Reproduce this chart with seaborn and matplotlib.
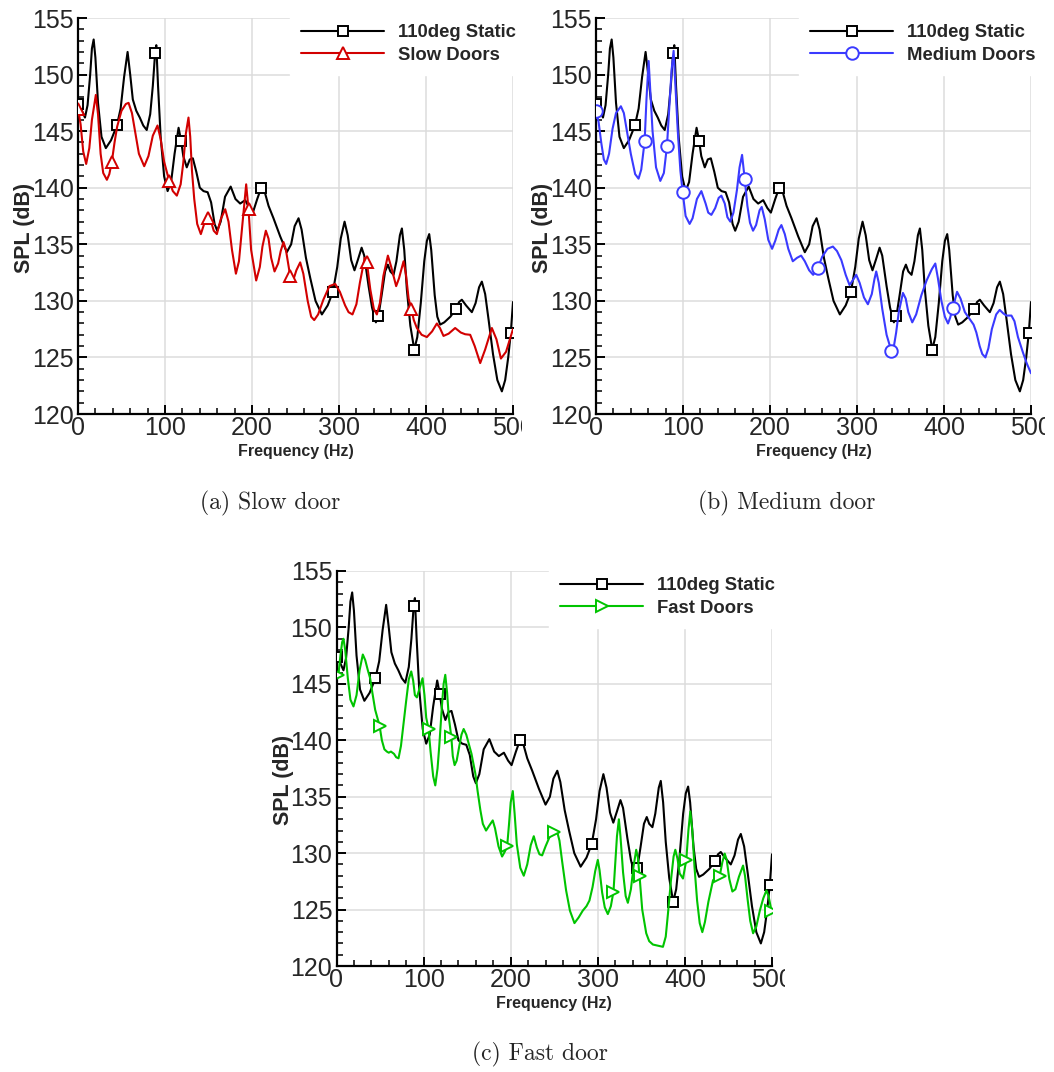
import numpy as np
import matplotlib
matplotlib.use("Agg")
import matplotlib.pyplot as plt
from matplotlib.patches import Rectangle
from matplotlib.ticker import MultipleLocator
import seaborn as sns

# ---- spectra: frequency (Hz) and SPL (dB) ----
static_freq = [0, 4, 8, 11, 14, 16, 18, 20, 23, 27, 32, 38, 44.7, 49, 53, 57, 60, 63, 67, 71, 75,
               79, 83, 86, 88.6, 90, 92, 95, 99, 103, 107, 111, 115.6, 118.6, 121, 125, 128.5, 132,
               136, 140, 144.3, 149, 153, 157, 160, 164, 169, 175.5, 181, 186.4, 192.2, 197, 201,
               206, 210.6, 214, 219, 224.7, 232.4, 240, 245, 249, 253.5, 257, 262, 267, 273, 280.3,
               287, 293, 298, 302, 306.4, 310, 314, 317.8, 322, 326, 329, 334, 338, 342.4, 345.4,
               349, 353, 356.2, 359, 362.7, 366, 370, 372.3, 375, 378, 382, 386.5, 390, 394, 398,
               401, 403.7, 406, 410, 413, 416.3, 421, 428, 434.7, 438, 441.2, 446, 452.7, 457, 461,
               464.2, 468, 472, 477, 482, 487.2, 491, 494.5, 497.5, 500]
static_spl = [147.4, 146.9, 146.2, 147.3, 150.0, 152.3, 153.1, 151.5, 147.5, 144.5, 143.5, 144.2,
              145.5, 147.0, 149.8, 152.0, 150.0, 147.8, 146.8, 146.2, 145.5, 145.1, 146.5, 149.0,
              151.9, 152.6, 149.0, 144.5, 141.0, 139.7, 140.5, 143.0, 145.3, 144.1, 142.8, 141.8,
              142.5, 142.6, 141.4, 140.0, 139.7, 139.6, 138.7, 136.8, 136.2, 137.0, 139.2, 140.1,
              139.0, 138.6, 138.9, 138.2, 137.8, 139.0, 140.0, 139.8, 138.4, 137.3, 135.7, 134.3,
              135.0, 136.6, 137.3, 136.3, 133.8, 132.0, 130.0, 128.8, 129.6, 130.8, 133.0, 135.5,
              137.0, 135.8, 133.6, 132.7, 133.7, 134.7, 134.0, 131.3, 129.4, 128.1, 128.7, 130.5,
              132.6, 133.2, 132.6, 132.3, 133.5, 135.8, 136.4, 134.5, 131.0, 127.8, 125.7, 126.8,
              129.8, 133.5, 135.3, 135.9, 134.5, 130.5, 128.6, 127.9, 128.1, 128.6, 129.3, 129.9,
              130.1, 129.6, 129.0, 129.8, 131.2, 131.7, 130.6, 128.3, 125.3, 123.0, 122.0, 123.0,
              125.0, 127.2, 129.9]
static_marks = [0, 44.7, 88.6, 118.6, 210.6, 293, 345.4, 386.5, 434.7, 497.5]

slow_freq = [0, 3, 6, 9.4, 13, 16, 20.5, 23, 26, 29, 33.2, 36, 38.9, 42, 45, 50, 55, 58.1, 62, 66,
             70, 76.1, 81, 86, 91.4, 95, 99, 104.8, 109, 113.6, 118, 121, 124, 127, 129, 131, 133.6,
             137, 141.2, 145, 148.9, 153, 156, 159.6, 164, 169.2, 173, 177, 181.5, 185, 189, 193.3,
             196, 199, 204.8, 209, 212, 215.9, 219, 222, 225.9, 230, 233, 236.2, 239, 243.9, 247.7,
             251, 255.4, 259, 264, 268, 271.5, 276, 282, 289, 295.6, 301, 307, 311, 315.5, 320,
             324, 329.5, 332, 336, 340, 343.5, 347, 351, 356.2, 360, 365.7, 369, 374.2, 377, 380,
             383, 386, 389.5, 395, 401, 407, 412.5, 416, 420.1, 426, 433.5, 440, 445, 450.8, 456,
             462.3, 468, 475.7, 481, 486.1, 492, 500]
slow_spl = [147.0, 145.6, 143.2, 142.1, 143.5, 146.0, 148.2, 146.5, 143.0, 141.3, 140.7, 141.2,
            142.3, 144.0, 145.4, 146.8, 147.4, 147.5, 146.6, 144.8, 143.0, 141.9, 142.8, 144.6,
            145.5, 144.3, 142.3, 140.6, 139.7, 139.3, 140.3, 142.2, 144.8, 146.2, 144.5, 141.5,
            139.0, 136.8, 135.9, 136.8, 137.3, 137.0, 136.2, 135.9, 137.2, 138.1, 137.0, 134.5,
            132.4, 133.5, 136.8, 140.3, 138.1, 134.5, 131.8, 133.0, 134.8, 136.2, 135.5, 133.8,
            132.6, 133.3, 134.4, 135.2, 134.5, 132.2, 131.9, 132.7, 133.4, 132.4, 130.0, 128.6,
            128.3, 128.8, 130.1, 131.3, 131.5, 130.8, 129.6, 129.0, 128.8, 129.7, 131.6, 133.8,
            133.4, 131.0, 129.3, 128.8, 129.8, 132.2, 134.0, 133.0, 131.3, 132.0, 133.5, 132.3,
            130.2, 129.3, 128.3, 127.6, 127.0, 126.8, 127.3, 128.0, 127.6, 126.9, 127.1, 127.6,
            127.2, 127.05, 127.0, 126.0, 124.5, 125.7, 127.6, 126.6, 124.9, 125.5, 127.5]
slow_marks = [0, 38.9, 104.8, 148.9, 196, 243.9, 332, 383]

medium_freq = [0, 3, 6, 9, 11.7, 15, 19, 23, 28.6, 32, 36, 40, 45, 48.9, 52, 55.9, 58, 60.5, 62.5,
               65, 69, 73.9, 78, 81.6, 84, 87, 89.2, 91, 94, 97, 99.6, 103, 107.6, 111, 116, 121.1,
               126, 129, 132.6, 137, 141, 144.1, 148, 151, 154.4, 158, 162, 165, 167.9, 170.9, 174,
               177, 180.5, 184, 188, 190.5, 194, 198, 202.4, 206, 210, 213.1, 217, 221, 226.2, 231,
               235.8, 240, 245, 249.6, 255, 260, 266, 272.3, 277, 282, 287, 291.4, 295, 299.1, 303,
               308, 312.5, 317, 320, 322.1, 325, 329, 334, 339.4, 342, 345, 348, 352.8, 356, 359,
               363.5, 368, 374, 380, 386, 390, 393, 397, 401, 404.6, 407, 410.3, 415, 419, 424,
               429.5, 434, 437.2, 441, 444, 447.6, 451, 455, 460, 464, 468, 471.7, 477.5, 481, 485,
               490.9, 495, 500]
medium_spl = [146.8, 145.8, 144.0, 142.5, 142.1, 143.0, 145.2, 146.6, 147.2, 146.6, 144.8, 143.0,
              141.2, 140.8, 141.6, 144.1, 147.8, 151.2, 148.5, 145.0, 141.8, 140.6, 141.3, 143.7,
              146.8, 150.5, 152.1, 149.5, 145.0, 141.5, 139.6, 137.5, 136.8, 137.3, 139.0, 139.7,
              138.6, 137.8, 137.6, 138.2, 139.1, 139.3, 138.6, 137.4, 137.0, 137.8, 139.8, 141.8,
              142.9, 140.8, 138.4, 136.9, 136.2, 136.7, 138.0, 138.3, 137.2, 135.4, 134.6, 135.3,
              136.3, 136.7, 135.9, 134.6, 133.5, 133.8, 134.0, 133.5, 132.7, 132.3, 132.9, 133.9,
              134.6, 134.8, 134.4, 133.6, 132.3, 131.4, 131.8, 132.3, 131.6, 130.3, 129.7, 130.6,
              131.9, 132.6, 131.6, 129.3, 127.0, 125.6, 125.8, 127.2, 129.0, 130.7, 130.2, 129.0,
              128.1, 128.8, 130.5, 131.8, 132.8, 133.3, 132.0, 130.0, 128.6, 128.0, 128.5, 129.4,
              130.8, 130.2, 129.0, 128.4, 127.9, 127.2, 126.0, 125.3, 125.0, 125.8, 127.5, 128.8,
              129.2, 128.9, 128.7, 128.7, 128.2, 126.8, 125.4, 124.5, 123.6]
medium_marks = [0, 55.9, 81.6, 99.6, 170.9, 255, 339.4, 410.3]

fast_freq = [0, 2.2, 4.5, 6.5, 8, 10, 13, 16, 19.5, 23, 26.5, 30.2, 33, 36, 38.6, 41, 44.4, 49.4,
             52.1, 55, 57.8, 60, 62.5, 66, 68.5, 71.2, 74, 77, 80, 83, 85.8, 88, 90, 92.3, 95, 98.8,
             101, 103, 105.7, 108, 111, 113.4, 116, 118, 121, 123, 124.9, 127, 129, 131.8, 133.5,
             135.6, 138, 141, 143.5, 146, 149, 151.8, 155, 159.4, 162, 165.2, 168, 171.7, 175,
             179.4, 182, 186, 190.1, 193, 195.9, 198, 200, 202.4, 204.5, 207, 211, 215, 219, 223,
             226.5, 230, 233, 236.1, 240, 245, 250.2, 254, 256, 259, 263.6, 268, 273.2, 278, 282.7,
             287, 290.4, 294, 297, 300, 302, 305, 308, 311.5, 315, 318, 320, 322, 324.2, 326, 329,
             332, 334.5, 338, 341, 344.1, 346, 347.9, 351, 355.6, 359, 363.3, 369, 374.8, 378,
             380.5, 384, 387, 389, 391.5, 394, 397.8, 401.6, 404, 406.2, 408.5, 411, 414, 417, 420,
             423, 427, 432.3, 436, 440, 443, 445.7, 448, 451, 454.5, 458, 462, 466.8, 469, 472,
             475, 478.3, 482, 486, 490, 493.6, 496, 499.4]
fast_spl = [145.6, 145.8, 147.5, 148.7, 149.0, 148.0, 145.5, 143.6, 143.0, 144.0, 146.2, 147.6,
            147.1, 146.2, 145.5, 144.3, 142.7, 141.3, 140.0, 139.2, 139.0, 138.9, 139.0, 138.8,
            138.5, 138.4, 139.5, 141.5, 143.5, 145.4, 146.1, 145.3, 144.0, 143.8, 144.5, 145.5,
            144.0, 142.0, 141.0, 139.0, 136.8, 136.0, 137.5, 139.5, 143.0, 145.0, 145.8, 144.2,
            142.0, 140.3, 138.6, 137.8, 138.2, 139.5, 140.5, 141.0, 140.5, 139.7, 138.8, 137.05,
            135.5, 133.8, 132.6, 132.0, 132.4, 132.9, 132.2, 130.6, 129.7, 130.1, 130.6, 132.5,
            134.5, 135.5, 133.5, 130.8, 128.7, 128.0, 129.0, 130.7, 131.5, 130.5, 129.9, 129.8,
            130.6, 131.5, 131.9, 131.7, 131.1, 129.3, 126.7, 124.9, 123.8, 124.3, 124.9, 125.3,
            125.8, 127.0, 128.4, 129.4, 128.5, 126.5, 125.2, 124.6, 125.3, 126.6, 129.0, 131.5,
            133.0, 131.5, 128.3, 126.2, 125.6, 126.8, 128.8, 130.3, 129.6, 128.0, 125.0, 122.9,
            122.2, 121.9, 121.8, 121.7, 122.6, 124.6, 127.6, 129.7, 130.3, 129.5, 128.2, 127.75,
            129.4, 132.0, 133.7, 132.0, 128.8, 125.8, 123.8, 123.0, 123.9, 125.7, 127.6, 127.9,
            128.0, 129.2, 129.96, 129.4, 127.7, 126.6, 126.8, 127.9, 128.9, 128.0, 125.9, 124.0,
            122.9, 123.5, 124.9, 126.0, 126.7, 126.2, 124.9]
fast_marks = [2.2, 49.4, 105.7, 131.8, 195.9, 250.2, 318, 347.9, 401.6, 440, 499.4]

panels = [
    dict(name="Slow Doors", freq=slow_freq, spl=slow_spl, marks=slow_marks, color="#d20000",
         marker="^", ms=8.5, box=(78, 18, 513, 414), leg_x=290, edge=522,
         caption="(a) Slow door", cap_xy=(270, 503)),
    dict(name="Medium Doors", freq=medium_freq, spl=medium_spl, marks=medium_marks, color="#3a3aff",
         marker="o", ms=9.0, box=(596, 18, 1031, 414), leg_x=799, edge=1045,
         caption="(b) Medium door", cap_xy=(787, 503)),
    dict(name="Fast Doors", freq=fast_freq, spl=fast_spl, marks=fast_marks, color="#00c400",
         marker=">", ms=8.5, box=(336.5, 571, 772, 966), leg_x=549, edge=785,
         caption="(c) Fast door", cap_xy=(540, 1054)),
]

sns.set_theme(style="white")
plt.rcParams["font.family"] = ["Liberation Sans", "DejaVu Sans"]

W, H = 1054, 1072
fig = plt.figure(figsize=(W / 100, H / 100), dpi=100)


def mark_index(freq, marks):
    f = np.asarray(freq, dtype=float)
    return [int(np.argmin(np.abs(f - m))) for m in marks]


for p in panels:
    l, t, r, b = p["box"]
    ax = fig.add_axes([l / W, 1 - b / H, (r - l) / W, (b - t) / H])

    sns.lineplot(x=static_freq, y=static_spl, ax=ax, sort=False, estimator=None,
                 color="black", lw=1.5, marker="s", ms=7.5, mfc="white", mec="black", mew=1.4,
                 markevery=mark_index(static_freq, static_marks), label="110deg Static", zorder=3)
    sns.lineplot(x=p["freq"], y=p["spl"], ax=ax, sort=False, estimator=None,
                 color=p["color"], lw=1.5, marker=p["marker"], ms=p["ms"], mfc="white",
                 mec=p["color"], mew=1.4, markevery=mark_index(p["freq"], p["marks"]),
                 label=p["name"], zorder=4)

    ax.set_xlim(0, 500)
    ax.set_ylim(120, 155)
    ax.xaxis.set_major_locator(MultipleLocator(100))
    ax.xaxis.set_minor_locator(MultipleLocator(20))
    ax.yaxis.set_major_locator(MultipleLocator(5))
    ax.yaxis.set_minor_locator(MultipleLocator(1))
    ax.grid(True, which="major", color="#dcdcdc", lw=1.1)
    ax.set_axisbelow(True)
    for s in ("top", "right"):
        ax.spines[s].set_visible(False)
    for s in ("left", "bottom"):
        ax.spines[s].set_color("black")
        ax.spines[s].set_linewidth(1.6)
    ax.tick_params(which="both", direction="in", left=True, bottom=True,
                   top=False, right=False, color="black")
    ax.tick_params(which="major", length=6.5, width=1.4, labelsize=18)
    ax.tick_params(axis="x", which="major", pad=1.5)
    ax.tick_params(axis="y", which="major", pad=3)
    ax.tick_params(which="minor", length=4.3, width=1.1)

    ax.set_xlabel("Frequency (Hz)", fontsize=11.5, fontweight="bold")
    ax.set_ylabel("SPL (dB)", fontsize=15.5, fontweight="bold")
    ax.xaxis.set_label_coords(0.5, -0.076)
    ax.yaxis.set_label_coords(-0.098, 0.47)

    leg = ax.legend(loc="upper left", bbox_to_anchor=((p["leg_x"] - l) / (r - l), 1.012),
                    frameon=True, facecolor="white", edgecolor="white", framealpha=1,
                    fancybox=False, borderpad=0.6, handlelength=4.5, handletextpad=0.75,
                    labelspacing=0.3, borderaxespad=0, numpoints=1,
                    prop={"weight": "bold", "size": 13.3})
    leg.set_zorder(10)

    # each panel image ends just right of its frequency axis, trimming the last tick label
    fig.add_artist(Rectangle((p["edge"] / W, 1 - (b + 28) / H), 24 / W, 27 / H,
                             transform=fig.transFigure, facecolor="white",
                             edgecolor="none", zorder=20))

    cx, cy = p["cap_xy"]
    fig.text(cx / W, 1 - cy / H, p["caption"], family="cmr10", fontsize=17,
             ha="center", va="center")

fig.savefig("out.png", dpi=100)
